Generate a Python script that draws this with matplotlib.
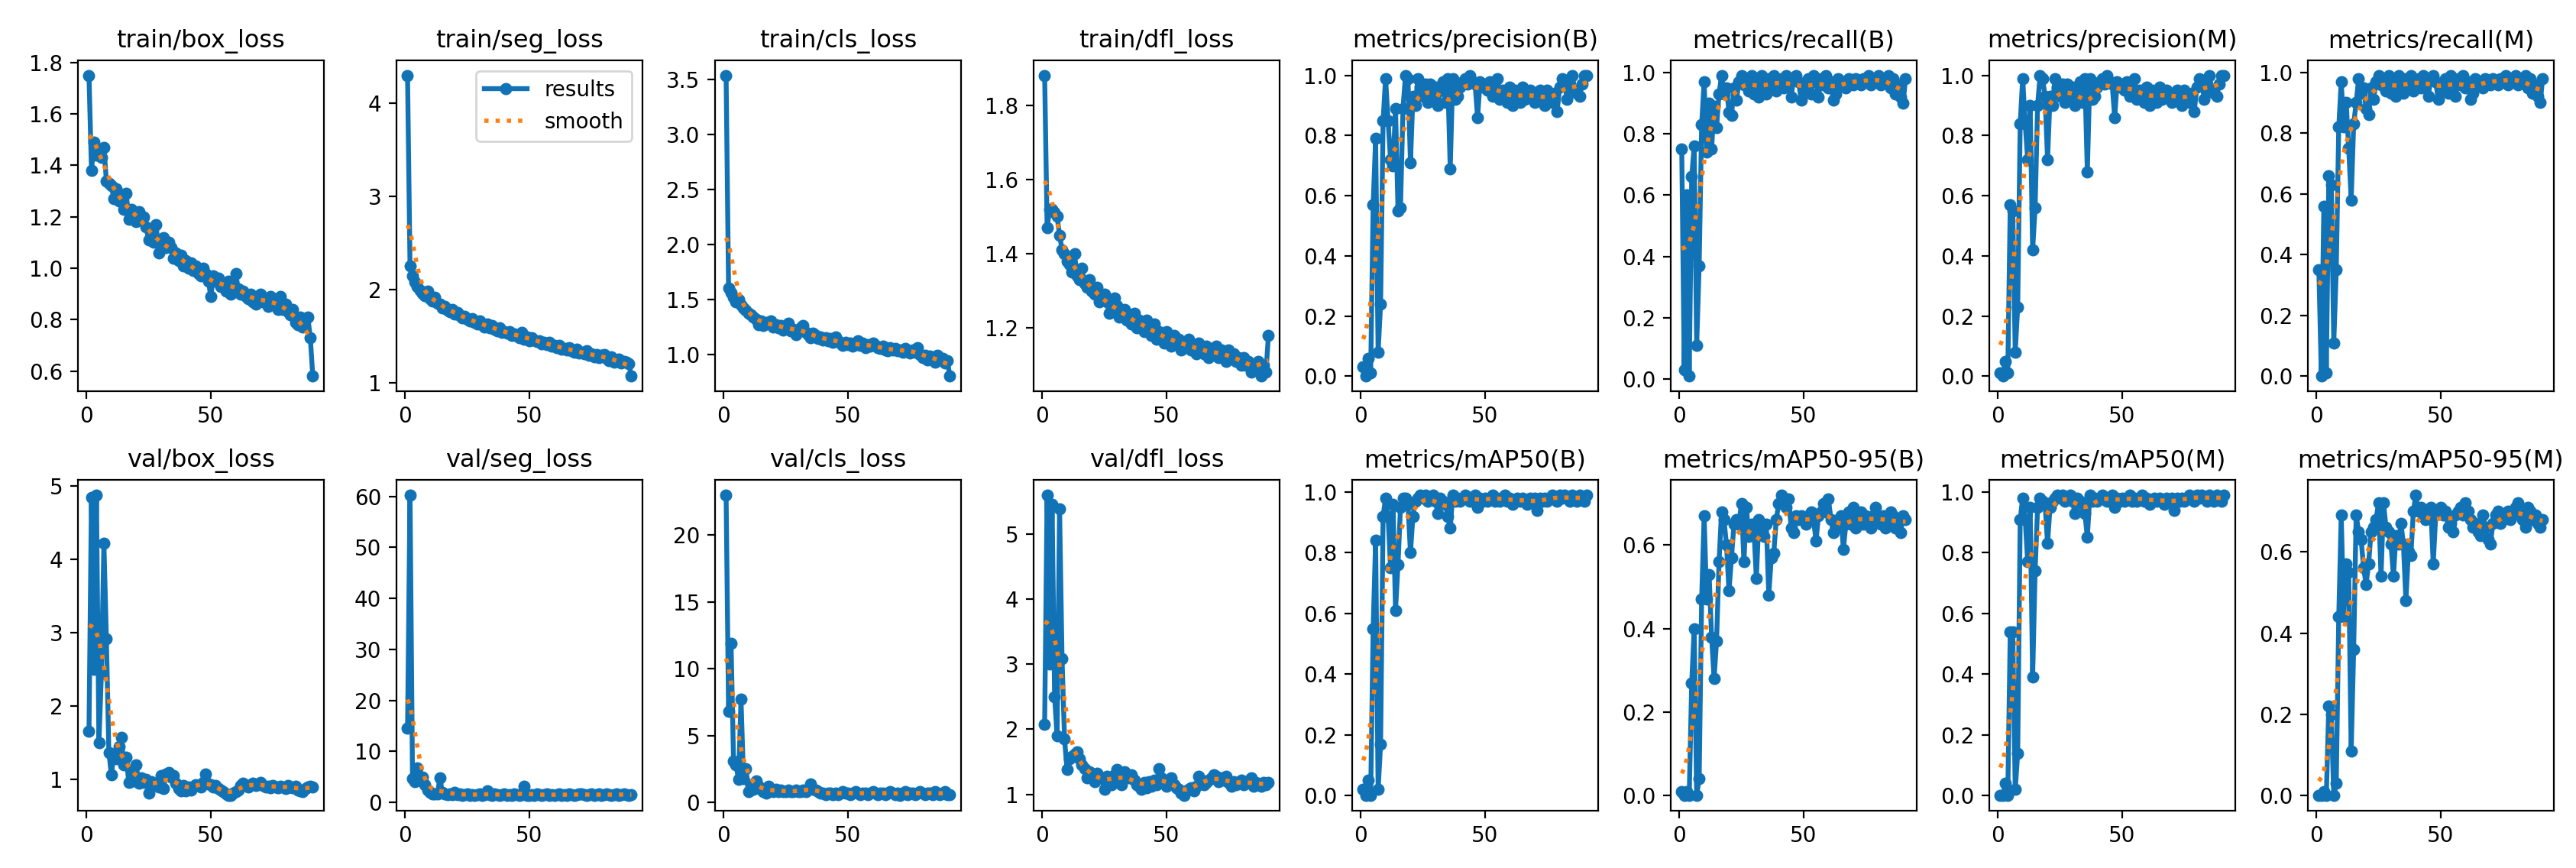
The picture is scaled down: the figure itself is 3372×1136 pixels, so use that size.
import numpy as np
import matplotlib
matplotlib.use("Agg")
import matplotlib.pyplot as plt
from matplotlib.ticker import MultipleLocator

titles = ["train/box_loss", "train/seg_loss", "train/cls_loss", "train/dfl_loss",
          "metrics/precision(B)", "metrics/recall(B)", "metrics/precision(M)", "metrics/recall(M)",
          "val/box_loss", "val/seg_loss", "val/cls_loss", "val/dfl_loss",
          "metrics/mAP50(B)", "metrics/mAP50-95(B)", "metrics/mAP50(M)", "metrics/mAP50-95(M)"]

train_box = [1.75, 1.38, 1.49, 1.44, 1.46, 1.43, 1.47, 1.34, 1.33, 1.32,
             1.27, 1.31, 1.26, 1.28, 1.23, 1.29, 1.19, 1.23, 1.21, 1.18,
             1.22, 1.19, 1.20, 1.16, 1.11, 1.14, 1.10, 1.17, 1.06, 1.09,
             1.12, 1.08, 1.10, 1.08, 1.04, 1.06, 1.03, 1.05, 1.01, 1.03,
             1.00, 1.02, 0.99, 1.01, 0.98, 0.97, 1.00, 0.98, 0.95, 0.89,
             0.97, 0.95, 0.96, 0.93, 0.94, 0.91, 0.95, 0.90, 0.93, 0.98,
             0.92, 0.90, 0.91, 0.89, 0.88, 0.90, 0.87, 0.86, 0.88, 0.90,
             0.87, 0.88, 0.85, 0.89, 0.87, 0.86, 0.84, 0.89, 0.84, 0.86,
             0.83, 0.82, 0.84, 0.79, 0.78, 0.81, 0.77, 0.80, 0.81, 0.73, 0.58]

train_seg = [4.30, 2.25, 2.15, 2.08, 2.03, 1.99, 1.96, 1.93, 1.98, 1.90,
             1.88, 1.92, 1.85, 1.84, 1.80, 1.82, 1.78, 1.76, 1.79, 1.74,
             1.75, 1.72, 1.70, 1.71, 1.68, 1.66, 1.69, 1.65, 1.63, 1.66,
             1.62, 1.60, 1.63, 1.59, 1.61, 1.57, 1.56, 1.59, 1.54, 1.55,
             1.53, 1.55, 1.51, 1.52, 1.50, 1.48, 1.54, 1.47, 1.49, 1.45,
             1.48, 1.46, 1.44, 1.45, 1.42, 1.43, 1.41, 1.43, 1.39, 1.40,
             1.38, 1.40, 1.36, 1.37, 1.35, 1.38, 1.34, 1.33, 1.36, 1.32,
             1.33, 1.31, 1.34, 1.29, 1.31, 1.28, 1.30, 1.27, 1.29, 1.30,
             1.26, 1.24, 1.28, 1.22, 1.24, 1.25, 1.21, 1.23, 1.22, 1.20, 1.07]

train_cls = [3.54, 1.60, 1.56, 1.52, 1.48, 1.50, 1.45, 1.42, 1.40, 1.37,
             1.36, 1.34, 1.32, 1.27, 1.30, 1.26, 1.29, 1.28, 1.30, 1.25,
             1.27, 1.24, 1.26, 1.22, 1.25, 1.28, 1.21, 1.23, 1.18, 1.22,
             1.24, 1.26, 1.20, 1.18, 1.15, 1.19, 1.17, 1.14, 1.16, 1.13,
             1.15, 1.12, 1.14, 1.11, 1.16, 1.12, 1.10, 1.08, 1.11, 1.09,
             1.10, 1.07, 1.09, 1.12, 1.08, 1.10, 1.06, 1.09, 1.07, 1.10,
             1.08, 1.06, 1.05, 1.07, 1.04, 1.03, 1.06, 1.04, 1.05, 1.03,
             1.04, 1.02, 1.05, 1.03, 1.01, 1.04, 1.02, 1.06, 1.00, 0.97,
             0.99, 0.95, 0.98, 0.97, 0.93, 0.99, 0.95, 0.96, 0.92, 0.94, 0.80]

train_dfl = [1.88, 1.47, 1.52, 1.52, 1.51, 1.50, 1.45, 1.41, 1.40, 1.38,
             1.37, 1.35, 1.40, 1.34, 1.33, 1.36, 1.32, 1.31, 1.33, 1.30,
             1.29, 1.31, 1.27, 1.28, 1.29, 1.27, 1.24, 1.25, 1.28, 1.26,
             1.23, 1.24, 1.25, 1.22, 1.23, 1.21, 1.24, 1.20, 1.22, 1.21,
             1.19, 1.22, 1.20, 1.18, 1.21, 1.17, 1.19, 1.18, 1.16, 1.19,
             1.17, 1.15, 1.18, 1.16, 1.17, 1.14, 1.16, 1.15, 1.17, 1.14,
             1.15, 1.13, 1.16, 1.14, 1.13, 1.15, 1.12, 1.14, 1.13, 1.15,
             1.12, 1.14, 1.13, 1.11, 1.14, 1.12, 1.13, 1.11, 1.12, 1.10,
             1.12, 1.10, 1.11, 1.08, 1.10, 1.09, 1.11, 1.07, 1.10, 1.08, 1.18]

precision_B = [0.03, 0.00, 0.06, 0.01, 0.57, 0.79, 0.08, 0.24, 0.85, 0.99,
               0.85, 0.72, 0.70, 0.89, 0.55, 0.56, 0.89, 1.00, 0.99, 0.71,
               0.93, 0.90, 0.99, 0.96, 0.93, 0.97, 0.91, 0.97, 0.93, 0.96,
               0.90, 0.95, 0.98, 0.91, 0.99, 0.69, 0.99, 0.92, 0.93, 0.96,
               0.98, 0.99, 0.97, 1.00, 0.98, 0.97, 0.86, 0.98, 0.96, 0.97,
               0.95, 0.98, 0.93, 0.96, 0.99, 0.92, 0.95, 0.94, 0.91, 0.96,
               0.90, 0.95, 0.93, 0.91, 0.96, 0.92, 0.94, 0.95, 0.93, 0.91,
               0.94, 0.95, 0.92, 0.90, 0.95, 0.93, 0.91, 0.94, 0.88, 0.96,
               0.99, 0.98, 0.92, 0.97, 1.00, 0.95, 0.94, 0.93, 0.97, 1.00, 1.00]

recall_B = [0.75, 0.03, 0.60, 0.01, 0.66, 0.76, 0.11, 0.37, 0.83, 0.97,
            0.74, 0.90, 0.75, 0.89, 0.82, 0.93, 0.99, 0.93, 0.95, 0.87,
            0.86, 0.95, 0.91, 0.97, 0.99, 0.96, 0.98, 0.94, 0.99, 0.93,
            0.97, 0.92, 0.99, 0.95, 0.93, 0.98, 0.96, 0.99, 0.94, 0.97,
            0.98, 0.95, 0.99, 0.96, 0.92, 0.98, 0.99, 0.97, 0.91, 0.94,
            0.96, 0.98, 0.93, 0.99, 0.97, 0.92, 0.98, 0.96, 0.99, 0.95,
            0.97, 0.91, 0.93, 0.98, 0.96, 0.97, 0.95, 0.98, 0.97, 0.96,
            0.98, 0.97, 0.96, 0.98, 0.97, 0.99, 0.96, 0.98, 0.97, 0.99,
            0.96, 0.98, 0.97, 0.99, 0.95, 0.98, 0.93, 0.96, 0.92, 0.90, 0.98]

precision_M = [0.01, 0.00, 0.05, 0.01, 0.57, 0.55, 0.08, 0.23, 0.84, 0.99,
               0.84, 0.72, 0.90, 0.42, 0.56, 0.90, 1.00, 0.99, 0.93, 0.72,
               0.93, 0.90, 0.99, 0.96, 0.93, 0.97, 0.91, 0.97, 0.93, 0.96,
               0.90, 0.95, 0.98, 0.91, 0.99, 0.68, 0.99, 0.92, 0.93, 0.96,
               0.98, 0.99, 0.97, 1.00, 0.98, 0.97, 0.86, 0.98, 0.96, 0.97,
               0.95, 0.98, 0.93, 0.96, 0.99, 0.92, 0.95, 0.94, 0.91, 0.96,
               0.90, 0.95, 0.93, 0.91, 0.96, 0.92, 0.94, 0.95, 0.93, 0.91,
               0.94, 0.95, 0.92, 0.90, 0.95, 0.93, 0.91, 0.94, 0.88, 0.96,
               0.99, 0.98, 0.92, 0.97, 1.00, 0.95, 0.94, 0.93, 0.97, 1.00, 1.00]

recall_M = [0.35, 0.00, 0.56, 0.01, 0.66, 0.63, 0.11, 0.35, 0.82, 0.97,
            0.82, 0.90, 0.75, 0.58, 0.83, 0.90, 0.98, 0.93, 0.95, 0.88,
            0.86, 0.95, 0.91, 0.97, 0.99, 0.96, 0.98, 0.94, 0.99, 0.93,
            0.97, 0.92, 0.99, 0.95, 0.93, 0.98, 0.96, 0.99, 0.94, 0.97,
            0.98, 0.95, 0.99, 0.96, 0.92, 0.98, 0.99, 0.97, 0.91, 0.94,
            0.96, 0.98, 0.93, 0.99, 0.97, 0.92, 0.98, 0.96, 0.99, 0.95,
            0.97, 0.91, 0.93, 0.98, 0.96, 0.97, 0.95, 0.98, 0.97, 0.96,
            0.98, 0.97, 0.96, 0.98, 0.97, 0.99, 0.96, 0.98, 0.97, 0.99,
            0.96, 0.98, 0.97, 0.99, 0.95, 0.98, 0.93, 0.96, 0.92, 0.90, 0.98]

val_box = [1.66, 4.85, 2.50, 4.88, 1.50, 2.45, 4.22, 2.92, 1.37, 1.06,
           1.35, 1.28, 1.45, 1.58, 1.20, 1.30, 0.96, 1.12, 0.98, 1.20,
           0.95, 1.02, 0.96, 1.00, 0.82, 0.97, 0.92, 0.95, 0.90, 1.05,
           0.88, 1.08, 1.10, 1.03, 1.05, 0.95, 0.88, 0.85, 0.92, 0.85,
           0.90, 0.86, 0.90, 0.93, 0.92, 0.90, 0.96, 1.07, 0.94, 0.93,
           0.90, 0.92, 0.88, 0.86, 0.84, 0.80, 0.78, 0.78, 0.82, 0.84,
           0.86, 0.92, 0.95, 0.92, 0.90, 0.93, 0.95, 0.92, 0.94, 0.96,
           0.92, 0.90, 0.91, 0.89, 0.92, 0.90, 0.89, 0.91, 0.90, 0.88,
           0.92, 0.90, 0.89, 0.91, 0.86, 0.85, 0.84, 0.88, 0.90, 0.91, 0.90]

val_seg = [14.5, 60.3, 4.6, 4.0, 6.8, 4.3, 5.0, 3.4, 2.4, 1.9,
           1.7, 1.6, 1.6, 4.8, 2.0, 1.6, 1.5, 1.7, 1.5, 2.0,
           1.5, 1.6, 1.4, 1.5, 1.6, 1.4, 1.5, 1.4, 1.5, 1.6,
           1.4, 1.5, 2.2, 1.5, 1.4, 1.6, 1.5, 1.4, 1.5, 1.6,
           1.4, 1.5, 1.4, 1.6, 1.5, 1.4, 1.5, 3.2, 1.4, 1.3,
           1.5, 1.4, 1.6, 1.5, 1.4, 1.5, 1.6, 1.4, 1.5, 1.4,
           1.5, 1.6, 1.4, 1.5, 1.4, 1.6, 1.5, 1.4, 1.5, 1.7,
           1.6, 1.5, 1.4, 1.5, 1.6, 1.4, 1.5, 1.6, 1.4, 1.5,
           1.6, 1.5, 1.4, 1.5, 1.6, 1.4, 1.5, 1.7, 1.5, 1.4, 1.5]

val_cls = [23.0, 6.8, 11.9, 3.1, 2.8, 1.7, 7.7, 1.8, 2.5, 0.8,
           1.3, 1.0, 1.6, 1.2, 1.0, 0.8, 0.7, 1.2, 0.9, 0.8,
           1.0, 0.8, 0.9, 0.8, 0.8, 0.9, 0.8, 0.8, 0.9, 0.8,
           0.8, 0.9, 0.8, 1.0, 1.4, 1.0, 0.9, 0.8, 0.7, 0.7,
           0.6, 0.7, 0.7, 0.6, 0.7, 0.6, 0.7, 0.8, 0.7, 0.7,
           0.6, 0.7, 0.8, 0.7, 0.6, 0.7, 0.7, 0.6, 0.7, 0.8,
           0.7, 0.6, 0.7, 0.7, 0.6, 0.7, 0.8, 0.7, 0.6, 0.7,
           0.5, 0.7, 0.8, 0.6, 0.7, 0.7, 0.6, 0.7, 0.8, 0.7,
           0.6, 0.7, 0.7, 0.6, 0.8, 0.7, 0.6, 0.7, 0.8, 0.6, 0.6]

val_dfl = [2.08, 5.60, 3.00, 5.45, 2.50, 1.90, 5.38, 3.08, 1.85, 1.38,
           1.55, 1.58, 1.62, 1.65, 1.55, 1.45, 1.40, 1.25, 1.35, 1.30,
           1.20, 1.32, 1.28, 1.25, 1.08, 1.28, 1.22, 1.15, 1.30, 1.38,
           1.20, 1.15, 1.35, 1.28, 1.25, 1.30, 1.22, 1.15, 1.12, 1.08,
           1.18, 1.10, 1.20, 1.12, 1.22, 1.15, 1.40, 1.25, 1.18, 1.12,
           1.20, 1.25, 1.15, 1.10, 1.08, 1.02, 0.98, 1.05, 1.08, 1.10,
           1.05, 1.12, 1.28, 1.22, 1.15, 1.18, 1.22, 1.25, 1.30, 1.28,
           1.20, 1.25, 1.22, 1.28, 1.18, 1.12, 1.20, 1.15, 1.18, 1.22,
           1.15, 1.20, 1.18, 1.25, 1.12, 1.18, 1.15, 1.12, 1.18, 1.15, 1.18]

mAP50_B = [0.02, 0.00, 0.05, 0.00, 0.55, 0.84, 0.02, 0.17, 0.92, 0.98,
           0.92, 0.75, 0.96, 0.61, 0.76, 0.95, 0.98, 0.98, 0.96, 0.80,
           0.92, 0.97, 0.98, 0.99, 0.98, 0.99, 0.97, 0.98, 0.99, 0.97,
           0.93, 0.98, 0.97, 0.96, 0.92, 0.88, 0.99, 0.97, 0.98, 0.97,
           0.98, 0.99, 0.98, 0.97, 0.98, 0.99, 0.95, 0.98, 0.97, 0.98,
           0.97, 0.98, 0.99, 0.97, 0.98, 0.97, 0.98, 0.99, 0.97, 0.98,
           0.96, 0.97, 0.98, 0.97, 0.98, 0.97, 0.96, 0.98, 0.97, 0.98,
           0.94, 0.98, 0.97, 0.98, 0.97, 0.98, 0.99, 0.98, 0.97, 0.99,
           0.98, 0.99, 0.98, 0.97, 0.99, 0.98, 0.97, 0.99, 0.98, 0.97, 0.99]

mAP5095_B = [0.01, 0.00, 0.01, 0.00, 0.27, 0.40, 0.00, 0.04, 0.47, 0.67,
             0.47, 0.53, 0.38, 0.28, 0.37, 0.56, 0.68, 0.66, 0.60, 0.49,
             0.57, 0.65, 0.66, 0.65, 0.70, 0.56, 0.69, 0.62, 0.65, 0.64,
             0.52, 0.66, 0.64, 0.62, 0.65, 0.48, 0.57, 0.58, 0.66, 0.70,
             0.72, 0.70, 0.69, 0.71, 0.64, 0.63, 0.67, 0.66, 0.67, 0.66,
             0.65, 0.67, 0.68, 0.66, 0.61, 0.67, 0.68, 0.70, 0.68, 0.71,
             0.66, 0.63, 0.64, 0.66, 0.67, 0.59, 0.65, 0.68, 0.65, 0.69,
             0.64, 0.66, 0.68, 0.65, 0.67, 0.66, 0.64, 0.67, 0.69, 0.66,
             0.65, 0.67, 0.64, 0.66, 0.68, 0.67, 0.64, 0.66, 0.63, 0.67, 0.66]

mAP50_M = [0.00, 0.00, 0.04, 0.00, 0.54, 0.54, 0.02, 0.14, 0.91, 0.98,
           0.91, 0.77, 0.95, 0.39, 0.74, 0.95, 0.98, 0.97, 0.96, 0.83,
           0.95, 0.97, 0.98, 0.99, 0.98, 0.99, 0.97, 0.98, 0.99, 0.97,
           0.93, 0.98, 0.97, 0.96, 0.93, 0.85, 0.99, 0.97, 0.98, 0.97,
           0.98, 0.99, 0.98, 0.97, 0.98, 0.99, 0.95, 0.98, 0.97, 0.98,
           0.97, 0.98, 0.99, 0.97, 0.98, 0.97, 0.98, 0.99, 0.97, 0.98,
           0.96, 0.97, 0.98, 0.97, 0.98, 0.97, 0.96, 0.98, 0.97, 0.98,
           0.94, 0.98, 0.97, 0.98, 0.97, 0.98, 0.99, 0.98, 0.97, 0.99,
           0.98, 0.99, 0.98, 0.97, 0.99, 0.98, 0.97, 0.99, 0.98, 0.97, 0.99]

mAP5095_M = [0.00, 0.00, 0.01, 0.00, 0.22, 0.20, 0.00, 0.03, 0.44, 0.69,
             0.44, 0.57, 0.55, 0.11, 0.36, 0.69, 0.65, 0.63, 0.56, 0.52,
             0.57, 0.65, 0.66, 0.68, 0.72, 0.54, 0.72, 0.66, 0.65, 0.62,
             0.54, 0.64, 0.62, 0.67, 0.62, 0.48, 0.60, 0.59, 0.70, 0.74,
             0.70, 0.71, 0.69, 0.68, 0.70, 0.71, 0.57, 0.69, 0.70, 0.71,
             0.69, 0.70, 0.66, 0.67, 0.65, 0.69, 0.70, 0.71, 0.69, 0.72,
             0.70, 0.68, 0.66, 0.67, 0.65, 0.64, 0.69, 0.66, 0.63, 0.62,
             0.67, 0.69, 0.70, 0.67, 0.68, 0.69, 0.70, 0.68, 0.69, 0.71,
             0.72, 0.70, 0.68, 0.66, 0.71, 0.70, 0.68, 0.69, 0.67, 0.66, 0.68]

series = [train_box, train_seg, train_cls, train_dfl,
          precision_B, recall_B, precision_M, recall_M,
          val_box, val_seg, val_cls, val_dfl,
          mAP50_B, mAP5095_B, mAP50_M, mAP5095_M]

# y tick spacing per panel
ytick_steps = [0.2, 1, 0.5, 0.2, 0.2, 0.2, 0.2, 0.2,
               1, 10, 5, 1, 0.2, 0.2, 0.2, 0.2]
xtick_step = 50


def gaussian_smooth(y, sigma=3.0):
    r = int(4 * sigma + 0.5)
    t = np.arange(-r, r + 1)
    k = np.exp(-0.5 * (t / sigma) ** 2)
    k /= k.sum()
    yp = np.pad(np.asarray(y, float), r, mode="symmetric")
    return np.convolve(yp, k, mode="valid")


W, H, DPI = 3372, 1136, 200
fig, axes = plt.subplots(2, 8, figsize=(W / DPI, H / DPI), dpi=DPI)
fig.subplots_adjust(left=0.0302, right=0.9914, top=0.9305, bottom=0.066,
                    wspace=0.294, hspace=0.268)

blue = "#1173b6"
orange = "#ff7f0e"
for ax, title, y, st in zip(axes.ravel(), titles, series, ytick_steps):
    y = np.asarray(y, float)
    x = np.arange(1, len(y) + 1)
    ax.plot(x, y, marker=".", color=blue, linewidth=2.3, markersize=9.5, label="results")
    ax.plot(x, gaussian_smooth(y), ":", color=orange, linewidth=2.0, label="smooth")
    ax.set_title(title, fontsize=11.5)
    ax.tick_params(labelsize=10)
    ax.xaxis.set_major_locator(MultipleLocator(xtick_step))
    ax.yaxis.set_major_locator(MultipleLocator(st))

axes[0, 1].legend(loc="upper right", fontsize=10)

fig.savefig("out.png", dpi=DPI)
